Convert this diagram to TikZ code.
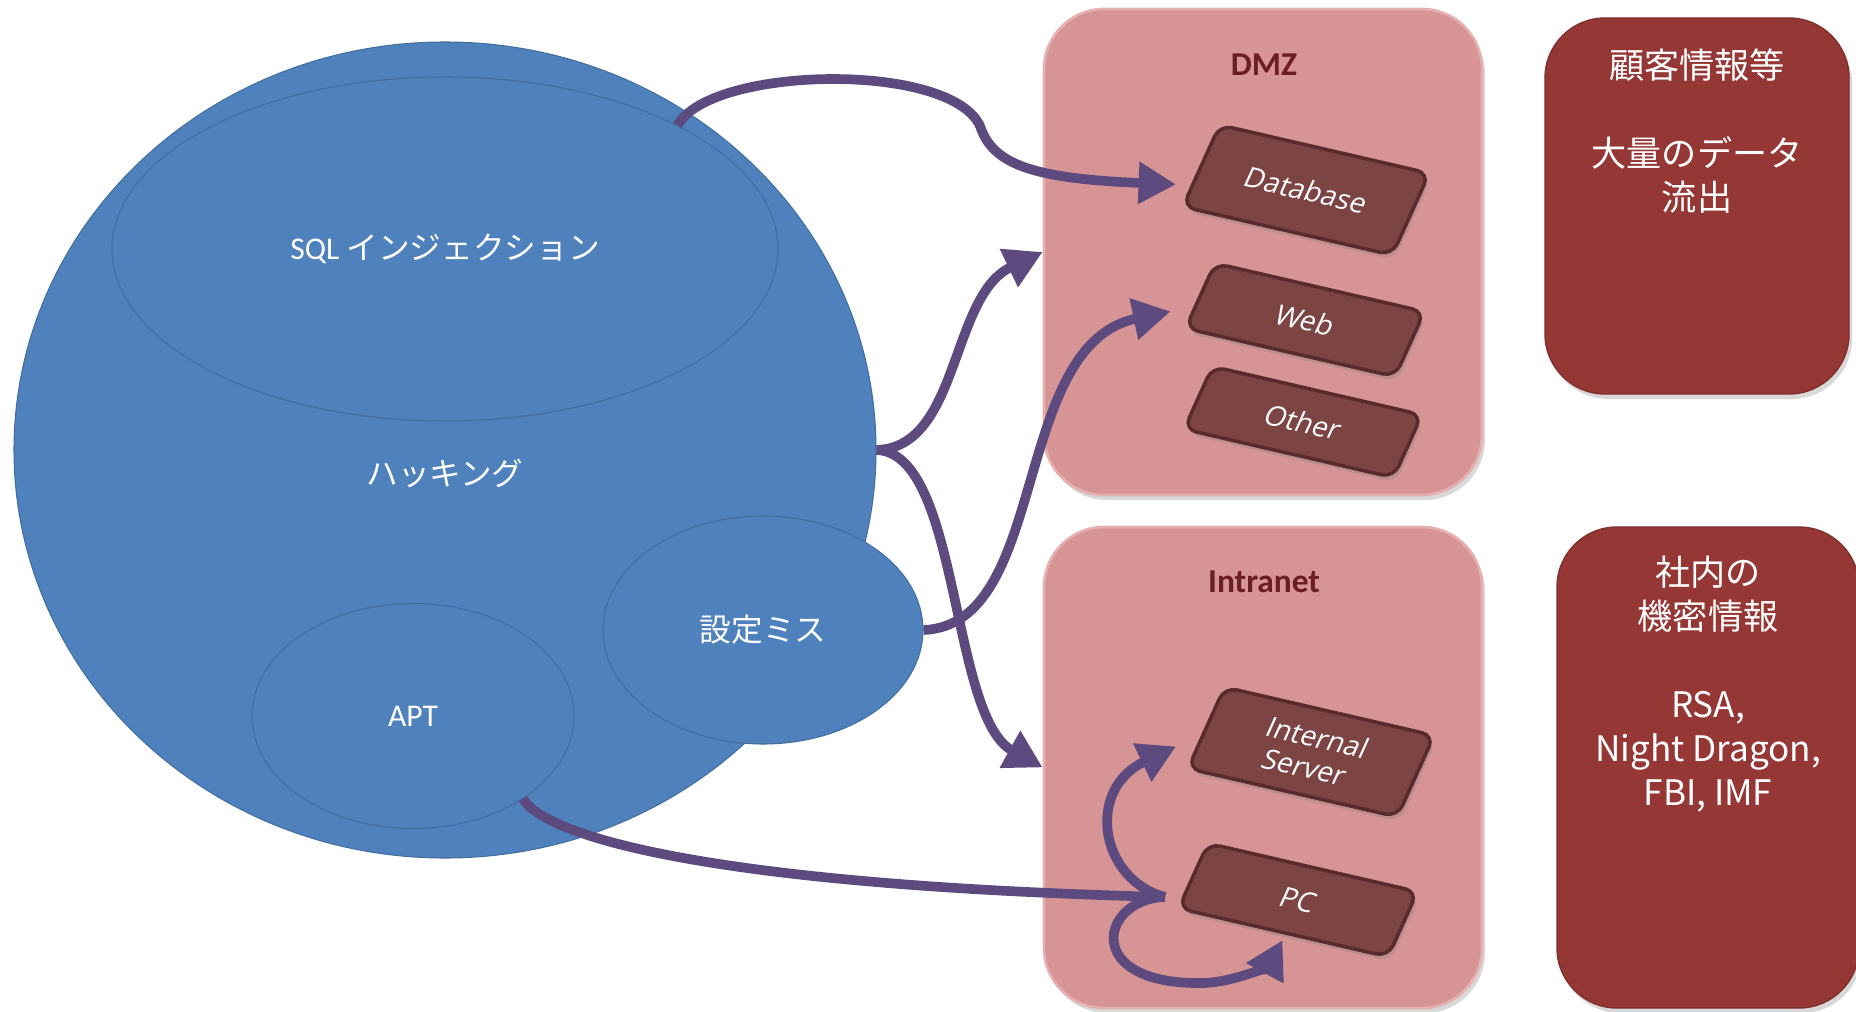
\documentclass[tikz,border=0pt]{standalone}
\usepackage{fontspec}
\setmainfont{Carlito}
\newfontfamily\jpfont{Noto Sans CJK JP}
\newfontfamily\keyfont{Open Sans}
\usepackage{xcolor}
\usetikzlibrary{arrows.meta}
\usetikzlibrary{shapes.geometric}
\usetikzlibrary{positioning}
\usetikzlibrary{shadows}
\definecolor{hackblue}{HTML}{4F81BD}
\definecolor{hackedge}{HTML}{416E9F}
\definecolor{zonepink}{HTML}{D69494}
\definecolor{zoneedge}{HTML}{E6B0B0}
\definecolor{keyface}{HTML}{7D4444}
\definecolor{keyedge}{HTML}{5A2B2B}
\definecolor{infored}{HTML}{953735}
\definecolor{zonetext}{HTML}{6B1F22}
\definecolor{flowpurple}{HTML}{5D4B80}
\tikzset{
  blob/.style={ellipse, draw=hackedge, line width=0.6pt, fill=hackblue, inner sep=0pt, text=white, font=\fontsize{18}{22}\selectfont},
  zone/.style={draw=zoneedge, line width=1.5pt, fill=zonepink, rounded corners=1.2cm, minimum width=8.76cm,
    drop shadow={shadow xshift=0.06cm, shadow yshift=-0.1cm, opacity=0.3}},
  flow/.style={-{Triangle[length=0.75cm, width=0.8cm]}, line width=5.5pt, draw=flowpurple},
}

\begin{document}
\begin{tikzpicture}[
  keycap/.style={draw=keyedge, line width=2pt, fill=keyface, rounded corners=0.25cm, minimum width=4.3cm, align=center,
    text=white, font=\keyfont\fontsize{16}{18}\selectfont, rotate=-13, xslant=0.2,
    drop shadow={shadow xshift=0.05cm, shadow yshift=-0.1cm, opacity=0.3}},
  zonelabel/.style={text=zonetext, font=\bfseries\fontsize{19}{22}\selectfont},
  infobox/.style={draw=infored!85!black, line width=0.8pt, fill=infored, rounded corners=1.2cm,
    drop shadow={shadow xshift=0.06cm, shadow yshift=-0.1cm, opacity=0.3}},
  infotext/.style={text=white, align=center, inner sep=0pt, font=\jpfont\fontsize{20}{25}\selectfont}]
  \path[use as bounding box, fill=white] (0,0) rectangle (37.12,20.22);
  \node[blob, minimum width=17.24cm, minimum height=16.32cm] (hack) at (8.90,11.22) {};
  \node[blob, minimum width=13.32cm, minimum height=6.88cm] (sqli) at (8.90,15.24) {SQL \jpfont インジェクション};
  \node[text=white, font=\jpfont\fontsize{18}{22}\selectfont] (hacklabel) at (8.90,10.76) {ハッキング};
  \node[blob, minimum width=6.44cm, minimum height=4.50cm] (apt) at (8.26,5.90) {APT};
  \node[blob, minimum width=6.40cm, minimum height=4.56cm] (misconf) at (15.26,7.62) {\jpfont 設定ミス};
  \node[zone, minimum height=9.72cm] (dmz) at (25.26,15.18) {};
  \node[zonelabel] (dmzlabel) at (25.28,18.92) {DMZ};
  \node[keycap, minimum height=1.76cm] (db) at (26.12,16.42) {Database};
  \node[keycap, minimum height=1.40cm] (web) at (26.10,13.82) {Web};
  \node[keycap, minimum height=1.35cm] (other) at (26.06,11.78) {Other};
  \node[zone, minimum height=9.62cm] (intra) at (25.26,4.87) {};
  \node[zonelabel] (intralabel) at (25.28,8.58) {Intranet};
  \node[keycap, minimum height=1.75cm] (intsrv) at (26.22,5.18) {Internal\\Server};
  \node[keycap, minimum height=1.40cm] (pc) at (25.96,2.22) {PC};
  \node[infobox, minimum width=6.08cm, minimum height=7.52cm] (loss) at (33.94,16.10) {};
  \node[infotext, below=0.63cm of loss.north] (losstext) {顧客情報等\\[25pt]大量のデータ\\流出};
  \node[infobox, minimum width=6.04cm, minimum height=9.62cm] (secret) at (34.16,4.87) {};
  \node[infotext, below=0.59cm of secret.north] (secrettext) {社内の\\機密情報\\[25pt]RSA,\\Night Dragon,\\FBI, IMF};
  \coordinate (hub) at (23.30,2.28);
  \draw[flow] (sqli.28) .. controls (14.2,18.9) and (19.0,19.0) .. (19.6,17.7)
    .. controls (19.85,16.95) and (20.6,16.65) .. ([shift={(-0.47,-0.38)}]db.west);
  \draw[flow] (hack.east) .. controls (19.2,11.27) and (19.0,14.3) .. (dmz.west);
  \draw[flow] (hack.east) .. controls (19.2,11.17) and (19.0,5.9) .. (intra.west);
  \draw[flow] (misconf.east) .. controls (21.0,7.72) and (20.2,13.32) .. ([shift={(-0.56,-0.32)}]web.west);
  \draw[flow, -] (apt.-37) .. controls (10.9,3.52) and (14.0,2.52) .. (hub);
  \draw[flow] (hub) .. controls (22.0,2.62) and (21.7,4.42) .. ([shift={(-0.57,-0.38)}]intsrv.west);
  \draw[flow] (hub) .. controls (22.0,2.25) and (21.6,0.5) .. (24.1,0.56)
    .. controls (24.8,0.6) and (25.4,0.95) .. ([yshift=-0.12cm]pc.south);
\end{tikzpicture}
\end{document}
